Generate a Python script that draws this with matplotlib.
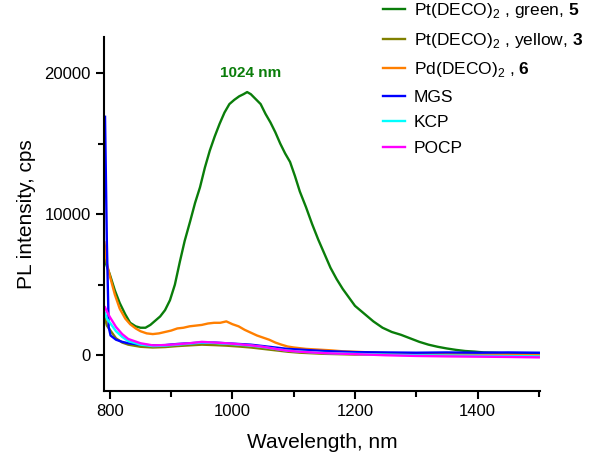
import numpy as np
import matplotlib
matplotlib.use("Agg")
import matplotlib.pyplot as plt
from matplotlib.ticker import MultipleLocator

plt.rcParams["font.family"] = ["Liberation Sans", "DejaVu Sans"]
plt.rcParams["mathtext.fontset"] = "custom"
plt.rcParams["mathtext.rm"] = "Liberation Sans"
plt.rcParams["mathtext.bf"] = "Liberation Sans:bold"

# Pt(DECO)2 green, 5
wl_green = [790, 795, 800, 808, 816, 825, 833, 842, 850, 858, 866, 874, 882, 890, 898,
            906, 914, 922, 931, 939, 947, 955, 963, 971, 979, 987, 995, 1003, 1011,
            1018, 1024, 1030, 1038, 1046, 1054, 1062, 1070, 1078, 1086, 1094, 1102,
            1110, 1120, 1130, 1140, 1150, 1160, 1170, 1180, 1190, 1200, 1215, 1230,
            1245, 1260, 1275, 1290, 1305, 1320, 1335, 1350, 1365, 1380, 1395, 1410,
            1425, 1440, 1455, 1470, 1485, 1500]
int_green = [7000, 6300, 5700, 4600, 3700, 2900, 2300, 2050, 1950, 1950, 2150, 2450,
             2750, 3200, 3900, 5000, 6600, 8100, 9500, 10800, 11900, 13300, 14500,
             15500, 16400, 17200, 17800, 18100, 18350, 18500, 18650, 18500, 18150,
             17800, 17100, 16500, 15800, 15000, 14300, 13700, 12700, 11600, 10500,
             9300, 8200, 7200, 6200, 5400, 4700, 4100, 3500, 2950, 2400, 1950, 1650,
             1450, 1200, 950, 750, 600, 480, 380, 300, 260, 200, 180, 150, 140, 130,
             140, 120]

# Pt(DECO)2 yellow, 3
wl_yellow = [792, 795, 800, 810, 820, 830, 850, 870, 890, 910, 930, 950, 970, 990,
             1010, 1030, 1050, 1070, 1090, 1110, 1150, 1200, 1250, 1300, 1350, 1400,
             1450, 1500]
int_yellow = [2600, 2100, 1800, 1200, 900, 750, 600, 550, 580, 650, 700, 750, 720,
              680, 620, 550, 450, 350, 250, 180, 100, 50, 60, 20, 30, 0, 10, -20]

# Pd(DECO)2, 6
wl_orange = [791, 795, 800, 808, 816, 825, 833, 842, 850, 860, 870, 880, 890, 900,
             910, 920, 930, 940, 950, 960, 970, 980, 990, 1000, 1010, 1020, 1030,
             1040, 1050, 1060, 1070, 1080, 1090, 1100, 1120, 1140, 1160, 1180, 1200,
             1250, 1300, 1350, 1400, 1450, 1500]
int_orange = [8000, 6500, 5600, 4300, 3300, 2600, 2200, 1900, 1700, 1550, 1500, 1550,
              1650, 1750, 1900, 1950, 2050, 2100, 2150, 2250, 2300, 2300, 2400, 2200,
              2050, 1800, 1600, 1400, 1250, 1100, 900, 750, 620, 550, 450, 400, 350,
              280, 250, 150, 100, 80, 60, 40, 0]

# MGS
wl_mgs = [792, 795, 798, 801, 810, 820, 830, 850, 870, 890, 910, 930, 950, 970, 990,
          1010, 1030, 1050, 1070, 1090, 1110, 1150, 1200, 1250, 1300, 1350, 1400,
          1450, 1500]
int_mgs = [16900, 8000, 2000, 1400, 1100, 950, 850, 750, 700, 720, 800, 850, 900,
           900, 850, 800, 750, 650, 550, 450, 400, 300, 220, 200, 180, 200, 180, 200,
           180]

# KCP
wl_kcp = [792, 795, 800, 810, 820, 830, 850, 870, 890, 910, 930, 950, 970, 990, 1010,
          1030, 1050, 1070, 1090, 1110, 1150, 1200, 1250, 1300, 1350, 1400, 1450, 1500]
int_kcp = [3000, 2600, 2300, 1700, 1300, 1000, 750, 650, 680, 750, 820, 900, 870, 820,
           750, 680, 580, 450, 330, 260, 160, 100, 40, 0, -20, -40, -60, -80]

# POCP
wl_pocp = [792, 795, 800, 810, 820, 830, 850, 870, 890, 910, 930, 950, 970, 990, 1010,
           1030, 1050, 1070, 1090, 1110, 1150, 1200, 1250, 1300, 1350, 1400, 1450, 1500]
int_pocp = [3400, 3100, 2700, 2000, 1500, 1150, 850, 700, 720, 780, 850, 950, 900, 850,
            780, 700, 600, 450, 320, 250, 150, 80, 0, -50, -80, -100, -120, -150]

series = [
    (wl_green, int_green, "#0a7d0a", r"Pt(DECO)$_2$ , green, $\mathbf{5}$"),
    (wl_yellow, int_yellow, "#808000", r"Pt(DECO)$_2$ , yellow, $\mathbf{3}$"),
    (wl_orange, int_orange, "#ff7f00", r"Pd(DECO)$_2$ , $\mathbf{6}$"),
    (wl_mgs, int_mgs, "#0000ff", "MGS"),
    (wl_kcp, int_kcp, "#00ffff", "KCP"),
    (wl_pocp, int_pocp, "#ff00ff", "POCP"),
]

fig = plt.figure(figsize=(6, 4.63), dpi=100)
ax = fig.add_axes([0.173, 0.155, 0.727, 0.765])

for x, y, c, lab in series:
    ax.plot(x, y, color=c, lw=1.7, label=lab)

ax.set_xlim(790, 1502)
ax.set_ylim(-2550, 22550)
ax.xaxis.set_major_locator(MultipleLocator(200))
ax.xaxis.set_minor_locator(MultipleLocator(100))
ax.yaxis.set_major_locator(MultipleLocator(10000))
ax.yaxis.set_minor_locator(MultipleLocator(5000))
for s in ["top", "right"]:
    ax.spines[s].set_visible(False)
for s in ["left", "bottom"]:
    ax.spines[s].set_linewidth(1.5)
ax.tick_params(which="major", direction="out", length=6, width=1.5, labelsize=12)
ax.tick_params(which="minor", direction="out", length=4, width=1.5)

ax.set_xlabel("Wavelength, nm", fontsize=15, labelpad=10)
ax.set_ylabel("PL intensity, cps", fontsize=15, labelpad=6)

ax.text(1030, 20000, "1024 nm", color="#0a7d0a", fontsize=11, fontweight="bold",
        ha="center", va="center")

fig.legend(loc="upper left", bbox_to_anchor=(0.627, 1.012), frameon=False,
           fontsize=12.5, handlelength=1.25, handletextpad=0.5, labelspacing=0.6,
           borderaxespad=0)

fig.savefig("out.png", dpi=100)
